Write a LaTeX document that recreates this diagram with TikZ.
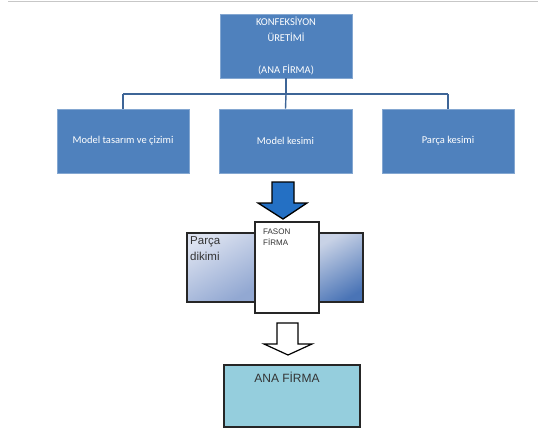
\documentclass[tikz,border=0pt]{standalone}
\usepackage{fontspec}
\setmainfont{Carlito}
\newfontfamily\arialf{Liberation Sans}
\usetikzlibrary{positioning}
\definecolor{offblue}{HTML}{4F81BD}
\definecolor{linkblue}{HTML}{3E6597}
\definecolor{arrowblue}{HTML}{2470C4}
\definecolor{anafill}{HTML}{95CEDD}
\definecolor{lboxa}{HTML}{DCE2F0}
\definecolor{lboxb}{HTML}{92A8D2}
\definecolor{rboxa}{HTML}{C8D2E6}
\definecolor{rboxb}{HTML}{4A74B6}
\tikzset{
  orgbox/.style={fill=offblue, draw=offblue!70!white, line width=0.6pt, text=white, font=\fontsize{10.5}{12}\selectfont, align=center},
  toptext/.style={text=white, font=\fontsize{10.5}{12}\selectfont, align=center, inner sep=0pt},
  link/.style={draw=linkblue, line width=1.4pt},
  sidebox/.style={draw=black!85, line width=1.3pt},
  whitebox/.style={draw=black!85, line width=1.3pt, fill=white},
}
\begin{document}
\begin{tikzpicture}[x=1pt,y=-1pt]
\useasboundingbox (0,0) rectangle (538,431);
\draw[draw=black!22, line width=1pt] (8,1.5) -- (538,1.5);
% top box
\node[orgbox, minimum width=132pt, minimum height=64pt, inner sep=0pt] (top) at (286,46) {};
\node[toptext] (toptxt) at (286,21) {KONFEKSİYON};
\node[toptext] (toptxt2) at (286,37) {ÜRETİMİ};
\node[toptext] (toptxt3) at (286,70) {(ANA FİRMA)};
% child boxes
\node[orgbox, minimum width=132pt, minimum height=64pt, inner sep=0pt] (b1) at (123,141) {Model tasarım ve çizimi};
\node[orgbox, minimum width=133pt, minimum height=64pt, inner sep=0pt] (b2) at (285.5,141) {Model kesimi};
\node[orgbox, minimum width=132pt, minimum height=64pt, inner sep=0pt] (b3) at (448,141) {Parça kesimi};
\coordinate (bus) at (286,94);
\coordinate (busL) at (123,94);
\coordinate (busR) at (448,94);
\draw[link] (top.south) -- (bus);
\draw[link] (busL) -- (busR);
\draw[link] (busL) -- (b1.north);
\draw[link] (bus) -- (b2.north);
\draw[link] (busR) -- (b3.north);
% blue arrow
\draw[draw=black, line width=1.3pt, fill=arrowblue, line join=miter]
  (272,182) -- (294,182) -- (294,203) -- (307,203) -- (283,219) -- (258,203) -- (272,203) -- cycle;
% side boxes
\node[sidebox, minimum width=68pt, minimum height=69pt, inner sep=0pt, top color=lboxa, bottom color=lboxb, shading angle=30] (left) at (221,267.5) {};
\node[sidebox, minimum width=44pt, minimum height=69pt, inner sep=0pt, top color=rboxa, bottom color=rboxb, shading angle=30] (right) at (341,267.5) {};
\node[anchor=north west, font=\arialf\fontsize{11.5}{16}\selectfont, align=left, inner sep=0pt, text=black!80] (parca) at (190,236) {Parça\\dikimi};
% white fason box
\node[whitebox, minimum width=64pt, minimum height=91pt, inner sep=0pt] (fason) at (287,267.5) {};
\node[anchor=north west, font=\arialf\fontsize{8}{11.5}\selectfont, align=left, inner sep=0pt, text=black!80] (fasontxt) at (263,228.5) {FASON\\FİRMA};
% hollow arrow
\draw[draw=black, line width=1.2pt, fill=white, line join=miter]
  (277,323) -- (298,323) -- (298,344) -- (312,344) -- (288,355) -- (264,344) -- (277,344) -- cycle;
% ANA FIRMA
\node[draw=black!85, line width=1.3pt, fill=anafill, minimum width=136pt, minimum height=62pt, inner sep=0pt] (ana) at (292,396) {};
\node[font=\arialf\fontsize{12}{14}\selectfont, inner sep=0pt, text=black!80] (anatxt) at (287,377) {ANA FİRMA};
\end{tikzpicture}
\end{document}
